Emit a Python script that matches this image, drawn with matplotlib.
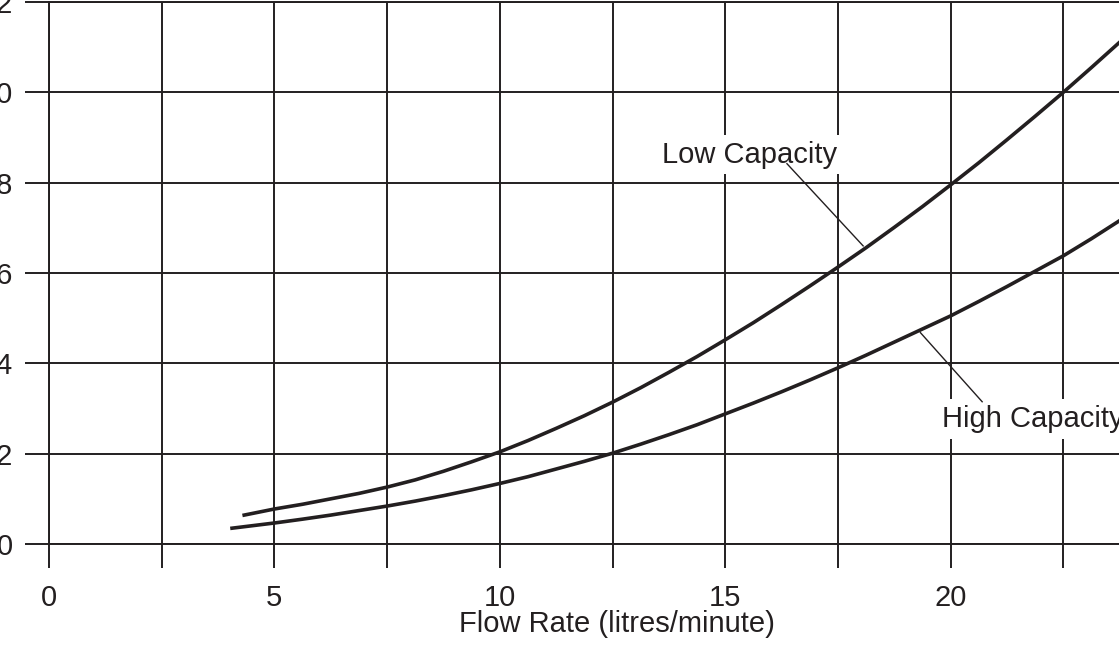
import matplotlib.pyplot as plt

plt.rcParams['font.family'] = ['Liberation Sans', 'DejaVu Sans']

# Low capacity curve (flow in litres/minute, pressure drop)
flow_low = [4.33, 5.0, 5.625, 6.25, 6.875, 7.5, 8.125, 8.75, 9.375, 10, 10.625, 11.25,
            11.875, 12.5, 13.125, 13.75, 14.375, 15, 15.625, 16.25, 16.875, 17.5,
            18.125, 18.75, 19.375, 20, 20.625, 21.25, 21.875, 22.5, 23.125, 23.75,
            24.375, 25]
drop_low = [0.064, 0.0775, 0.088, 0.100, 0.112, 0.126, 0.142, 0.161, 0.182, 0.204,
            0.229, 0.256, 0.284, 0.314, 0.346, 0.380, 0.415, 0.452, 0.490, 0.530,
            0.571, 0.613, 0.656, 0.701, 0.747, 0.795, 0.844, 0.895, 0.947, 1.000,
            1.055, 1.111, 1.168, 1.226]

# High capacity curve
flow_high = [4.06, 5.0, 5.625, 6.25, 6.875, 7.5, 8.125, 8.75, 9.375, 10, 10.625, 11.25,
             11.875, 12.5, 13.125, 13.75, 14.375, 15, 15.625, 16.25, 16.875, 17.5,
             18.125, 18.75, 19.375, 20, 20.625, 21.25, 21.875, 22.5, 23.125, 23.75,
             24.375, 25]
drop_high = [0.035, 0.0465, 0.055, 0.064, 0.074, 0.084, 0.095, 0.107, 0.120, 0.134,
             0.149, 0.166, 0.183, 0.201, 0.221, 0.242, 0.264, 0.288, 0.312, 0.337,
             0.363, 0.390, 0.418, 0.447, 0.476, 0.505, 0.537, 0.570, 0.604, 0.638,
             0.676, 0.716, 0.757, 0.800]

x_major = [0, 5, 10, 15, 20, 25]
x_minor = [2.5, 7.5, 12.5, 17.5, 22.5]
y_ticks = [0, 0.2, 0.4, 0.6, 0.8, 1.0, 1.2]
y_labels = ["0", "0.2", "0.4", "0.6", "0.8", "1.0", "1.2"]

ink = '#231f20'

fig = plt.figure(figsize=(11.19, 6.51), dpi=100)
# the axes run past the right edge of the picture, like the cropped original
ax = fig.add_axes([49 / 1119, 107 / 651, 1127 / 1119, 542 / 651])

ax.plot(flow_low, drop_low, color=ink, lw=2.6, zorder=4)
ax.plot(flow_high, drop_high, color=ink, lw=2.6, zorder=4)

ax.set_xlim(0, 25)
ax.set_ylim(0, 1.2)
ax.set_xticks(x_major)
ax.set_xticks(x_minor, minor=True)
ax.set_yticks(y_ticks)
ax.set_yticklabels(y_labels)

ax.set_axisbelow(True)
ax.grid(which='both', color=ink, lw=1.4)
ax.tick_params(which='both', direction='out', length=17, width=1.4, color=ink,
               labelsize=21, labelcolor=ink)
ax.tick_params(axis='x', pad=12)
ax.tick_params(axis='y', pad=9)
for s in ax.spines.values():
    s.set_color(ink)
    s.set_linewidth(1.4)

ax.set_xlabel('Flow Rate (litres/minute)', fontsize=21, color=ink)
ax.xaxis.set_label_coords(0.504, -0.121)

# labels with leader lines
ax.text(15.55, 0.844, 'Low Capacity', ha='center', va='baseline', fontsize=21,
        color=ink, bbox=dict(facecolor='white', edgecolor='none', pad=4), zorder=3)
ax.plot([16.37, 18.06], [0.842, 0.660], color=ink, lw=1.0, zorder=5)

ax.text(21.83, 0.259, 'High Capacity', ha='center', va='baseline', fontsize=21,
        color=ink, bbox=dict(facecolor='white', edgecolor='none', pad=4), zorder=3)
ax.plot([19.33, 20.70], [0.468, 0.315], color=ink, lw=1.0, zorder=5)

fig.savefig('out.png', dpi=100)
